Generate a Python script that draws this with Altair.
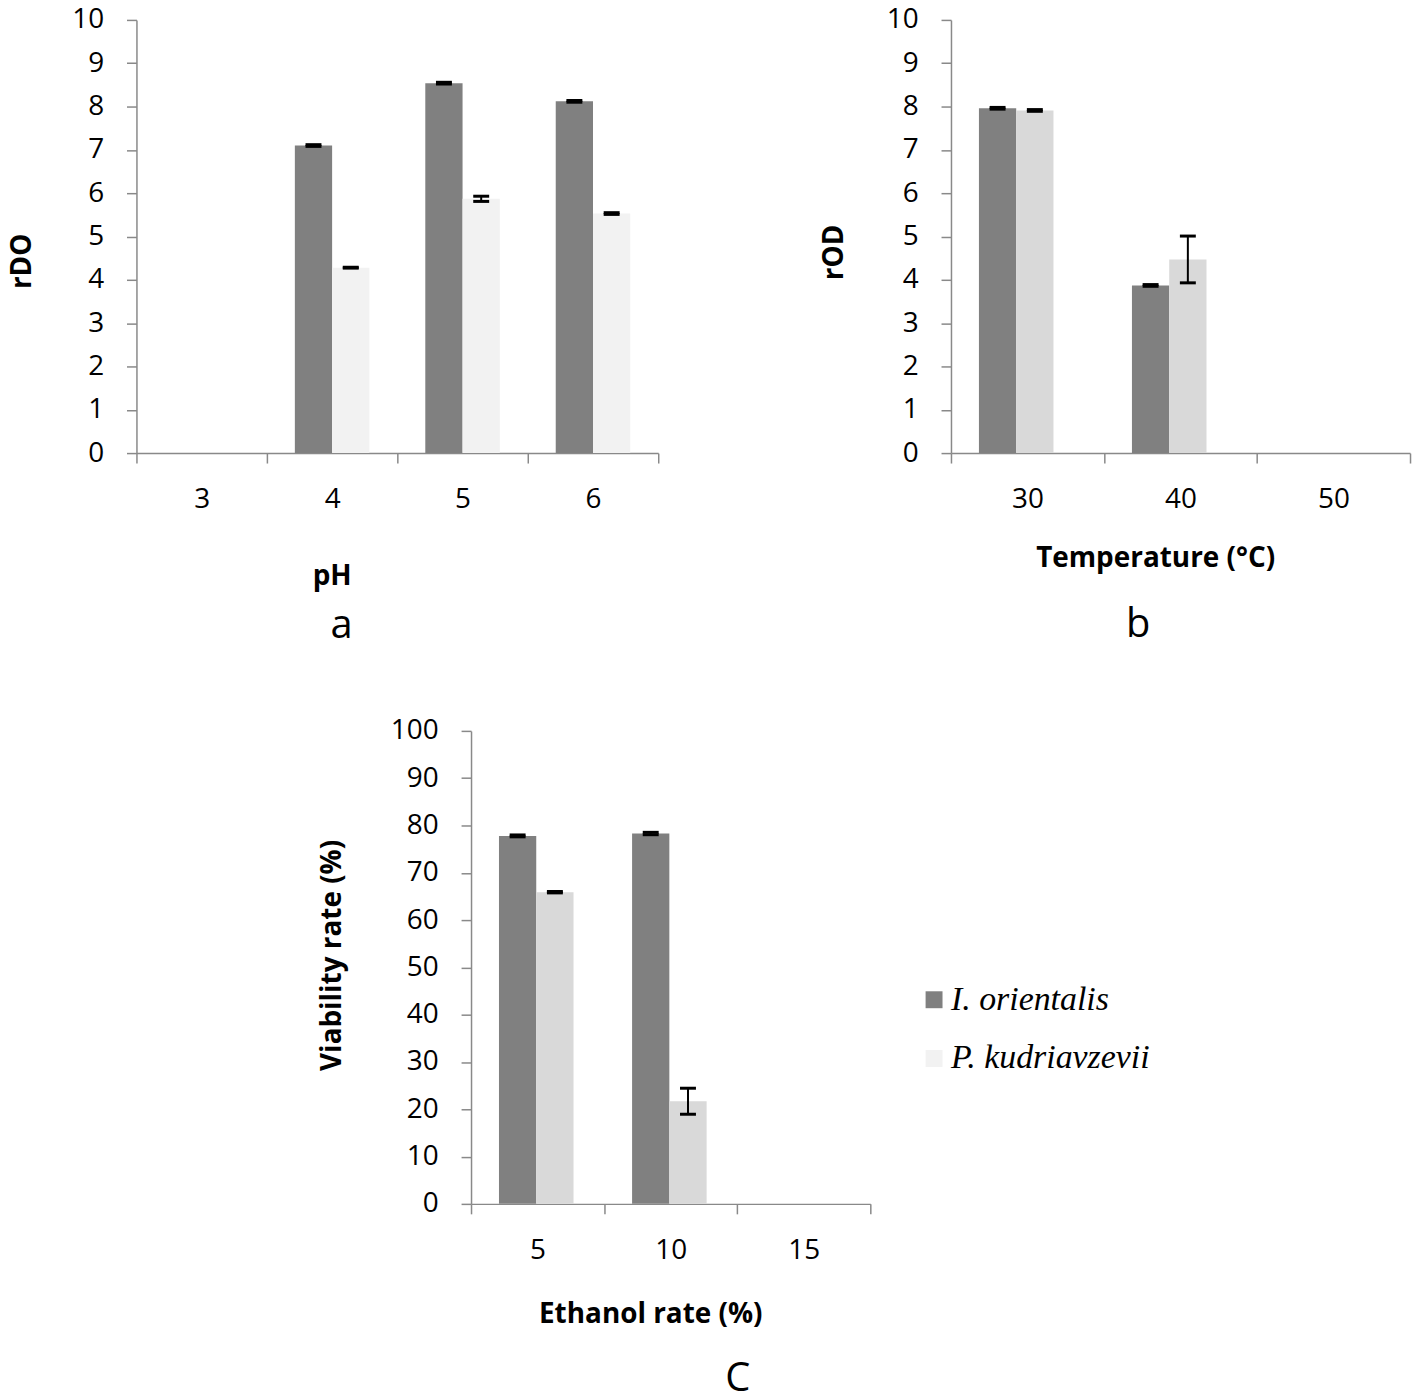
import altair as alt
import pandas as pd

species = ["I. orientalis", "P. kudriavzevii"]

# Panel a: pH
ph_levels = ["3", "4", "5", "6"]
ph_io = [0.0, 7.10, 8.54, 8.12]
ph_pk = [0.0, 4.28, 5.87, 5.53]
ph_io_err = [0.0, 0.02, 0.02, 0.02]
ph_pk_err = [0.0, 0.01, 0.06, 0.02]

# Panel b: temperature
temp_levels = ["30", "40", "50"]
temp_io = [7.96, 3.87, 0.0]
temp_pk = [7.91, 4.47, 0.0]
temp_io_err = [0.02, 0.02, 0.0]
temp_pk_err = [0.02, 0.54, 0.0]

# Panel c: ethanol
eth_levels = ["5", "10", "15"]
eth_io = [77.8, 78.3, 0.0]
eth_pk = [65.9, 21.7, 0.0]
eth_io_err = [0.2, 0.25, 0.0]
eth_pk_err = [0.15, 2.75, 0.0]

DARK = "#808080"
AXIS_COLOR = "#898989"
FONT = "Open Sans"


def make_df(levels, io, pk, io_err, pk_err):
    rows = []
    for i, lvl in enumerate(levels):
        for sp, v, e in ((species[0], io[i], io_err[i]), (species[1], pk[i], pk_err[i])):
            rows.append(dict(cat=lvl, series=sp, value=v, lo=v - e, hi=v + e, err=e))
    return pd.DataFrame(rows)


def panel(df, levels, ytitle, xtitle, ymax, ystep, width, height, light,
          letter, xt_x, xt_y, yt_x, yt_y, letter_dx, letter_offset, legend=False):
    xaxis = alt.Axis(title=xtitle, labelAngle=0, tickBand="extent", tickSize=10,
                     labelPadding=23, titleX=xt_x, titleY=xt_y, titleAlign="center",
                     titleBaseline="middle")
    x = alt.X("cat:N", sort=levels, scale=alt.Scale(paddingInner=0, paddingOuter=0), axis=xaxis)
    xo = alt.XOffset("series:N", sort=species,
                     scale=alt.Scale(domain=species, paddingOuter=0.75, paddingInner=0))
    yscale = alt.Scale(domain=[0, ymax], nice=False)
    yaxis = alt.Axis(title=ytitle, values=list(range(0, ymax + 1, ystep)), tickSize=10,
                     labelPadding=23, titleX=yt_x, titleY=yt_y, titleBaseline="middle",
                     titleAlign="center", grid=False)
    if legend:
        color = alt.condition(
            alt.datum.series == species[1],
            alt.value(light),
            alt.Color("series:N", sort=species,
                      scale=alt.Scale(domain=species, range=[DARK, "#F2F2F2"]),
                      legend=alt.Legend(orient="none", legendX=448, legendY=253, title=None,
                                        labelFont="Liberation Serif", labelFontStyle="italic",
                                        labelFontSize=34, labelColor="black", labelLimit=0,
                                        symbolType="square", symbolSize=289,
                                        symbolStrokeWidth=0, symbolOpacity=1,
                                        rowPadding=25, labelOffset=0, padding=0)),
        )
    else:
        color = alt.Color("series:N", sort=species,
                          scale=alt.Scale(domain=species, range=[DARK, light]), legend=None)

    base = alt.Chart(df)
    bars = base.mark_bar().encode(
        x=x, xOffset=xo, y=alt.Y("value:Q", scale=yscale, axis=yaxis), color=color)
    errs = base.transform_filter(alt.datum.err > 0)
    rules = errs.mark_rule(color="black", strokeWidth=2).encode(
        x=x, xOffset=xo, y=alt.Y("lo:Q", scale=yscale, axis=yaxis), y2="hi:Q")
    cap_hi = errs.mark_tick(color="black", size=16, thickness=3, opacity=1).encode(
        x=x, xOffset=xo, y=alt.Y("hi:Q", scale=yscale, axis=yaxis))
    cap_lo = errs.mark_tick(color="black", size=16, thickness=3, opacity=1).encode(
        x=x, xOffset=xo, y=alt.Y("lo:Q", scale=yscale, axis=yaxis))
    return alt.layer(bars, rules, cap_hi, cap_lo).properties(
        width=width, height=height,
        title=alt.TitleParams(letter, orient="bottom", anchor="start", align="center",
                              frame="group", dx=letter_dx, offset=letter_offset,
                              fontSize=40, fontWeight="normal", font=FONT, color="black"),
    )


df_a = make_df(ph_levels, ph_io, ph_pk, ph_io_err, ph_pk_err)
df_b = make_df(temp_levels, temp_io, temp_pk, temp_io_err, temp_pk_err)
df_c = make_df(eth_levels, eth_io, eth_pk, eth_io_err, eth_pk_err)

chart_a = panel(df_a, ph_levels, "rDO", "pH", 10, 1, 524, 435, "#F2F2F2", "a",
                196, 124, -114, 242, 206, 16)
chart_b = panel(df_b, temp_levels, "rOD", "Temperature (°C)", 10, 1, 461, 435, "#D9D9D9", "b",
                205, 106, -117, 233, 188, 33)
chart_c = panel(df_c, eth_levels, "Viability rate (%)", "Ethanol rate (%)", 100, 10, 401, 475,
                "#D9D9D9", "C", 180, 111, -139, 225, 268, 31, legend=True)

spacer = alt.Chart(pd.DataFrame({"v": [0]})).mark_point(opacity=0).encode(
    x=alt.value(0), y=alt.value(0)).properties(width=326, height=10)

row1 = alt.hconcat(chart_a, chart_b, spacing=294, bounds="flush").resolve_scale(color="independent")
row2 = alt.hconcat(spacer, chart_c, spacing=10, bounds="flush").resolve_scale(color="independent")

chart = alt.vconcat(row1, row2, spacing=714, bounds="flush").resolve_scale(
    color="independent"
).properties(
    padding={"left": 1, "top": -5, "right": 5, "bottom": 0}, background="white"
).configure_axis(
    labelFont=FONT, labelFontSize=28, labelColor="black",
    titleFont=FONT, titleFontSize=28, titleFontWeight="bold", titleColor="black",
    domainColor=AXIS_COLOR, tickColor=AXIS_COLOR, domainWidth=1.5, tickWidth=1.5,
).configure_view(stroke=None)

chart.save("out.html", embed_options={"renderer": "svg", "actions": False})
